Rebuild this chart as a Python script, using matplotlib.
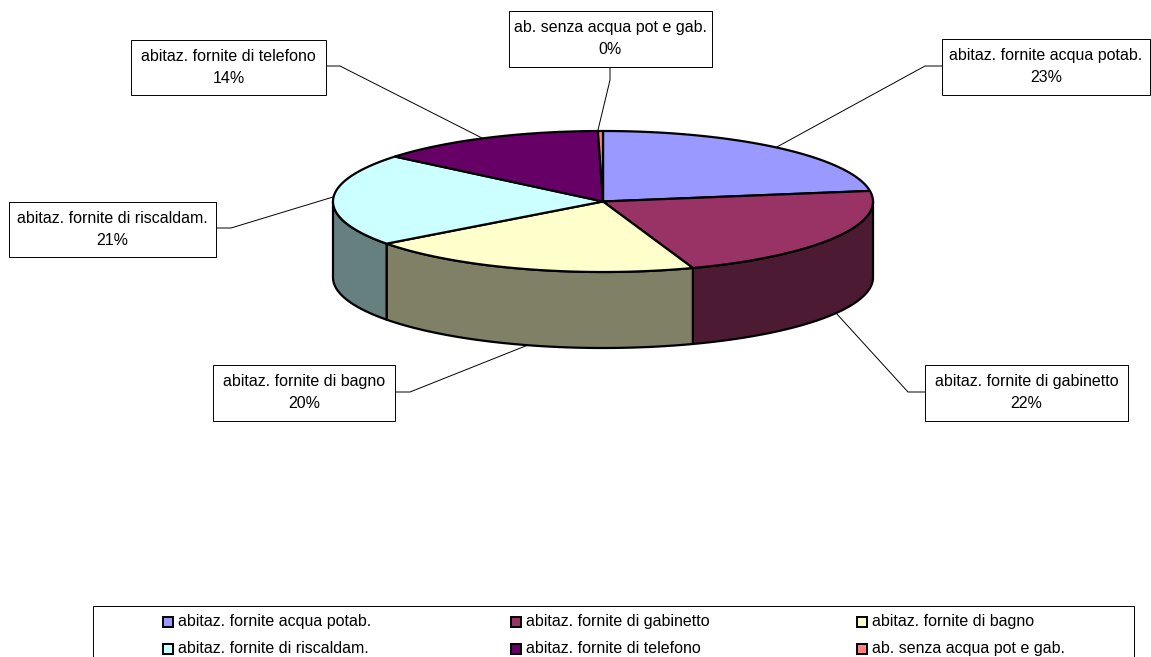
import matplotlib
matplotlib.use('Agg')
import matplotlib.pyplot as plt
from matplotlib.patches import Polygon, Rectangle
import numpy as np

plt.rcParams['font.family'] = ['Liberation Sans', 'DejaVu Sans']

# data
labels = ['abitaz. fornite acqua potab.', 'abitaz. fornite di gabinetto', 'abitaz. fornite di bagno',
          'abitaz. fornite di riscaldam.', 'abitaz. fornite di telefono', 'ab. senza acqua pot e gab.']
values = [22.6, 22.0, 20.2, 21.2, 13.7, 0.3]
colors = ['#9999FF', '#993366', '#FFFFCC', '#CCFFFF', '#660066', '#FF8080']
side_colors = ['#4D4D80', '#4D1A33', '#808066', '#668080', '#330033', '#804040']

# pie geometry in pixels
cx, cy = 603, 201.5
rx, ry = 270, 70.5
depth = 76

# callout boxes x0, y0, x1, y1 and leader lines
boxes = [(942, 39, 1150, 95), (925, 365, 1128, 421), (213, 365, 395, 421),
         (9, 202, 216, 257), (131, 40, 326, 95), (509, 11, 712, 67)]
leaders = [[(942, 66), (925, 66), (775, 148)],
           [(925, 392), (908, 392), (836, 313)],
           [(395, 392), (410, 392), (528, 345)],
           [(216, 228), (231, 228), (333, 197)],
           [(326, 66), (340, 66), (482, 138)],
           [(610, 67), (610, 80), (598, 130)]]

# legend
legend_box = (93, 606, 1134, 670)
legend_x = [163, 511, 857]
legend_y = [622, 649]


def rim(a, b, n=80):
    t = np.radians(np.linspace(a, b, n))
    return cx + rx * np.sin(t), cy - ry * np.cos(t)


fig = plt.figure(figsize=(11.51, 6.57), dpi=100)
ax = fig.add_axes([0, 0, 1, 1])
ax.set_xlim(0, 1151)
ax.set_ylim(657, 0)
ax.axis('off')

# leaders under the pie
for pts in leaders:
    ax.plot([p[0] for p in pts], [p[1] for p in pts], color='black', lw=0.7, zorder=1)

angles = np.concatenate([[0], np.cumsum(values)]) / sum(values) * 360

# front walls, only the part between 90 and 270 deg is visible
for i in range(len(values)):
    a = max(angles[i], 90)
    b = min(angles[i + 1], 270)
    if a < b:
        x, y = rim(a, b)
        pts = np.column_stack([np.r_[x, x[::-1]], np.r_[y, y[::-1] + depth]])
        ax.add_patch(Polygon(pts, closed=True, fc=side_colors[i], ec='black', lw=1.6, zorder=2, joinstyle='round'))

# top slices
for i in range(len(values)):
    x, y = rim(angles[i], angles[i + 1])
    pts = np.column_stack([np.r_[cx, x], np.r_[cy, y]])
    ax.add_patch(Polygon(pts, closed=True, fc=colors[i], ec='black', lw=1.6, zorder=3, joinstyle='round'))

# callouts
for i, (x0, y0, x1, y1) in enumerate(boxes):
    ax.add_patch(Rectangle((x0, y0), x1 - x0, y1 - y0, fc='white', ec='black', lw=0.7, zorder=4))
    mx = (x0 + x1) / 2
    ax.text(mx, y0 + 21, labels[i], ha='center', va='baseline', fontsize=11.5, zorder=5)
    ax.text(mx, y0 + 43, '%d%%' % round(values[i]), ha='center', va='baseline', fontsize=11.5, zorder=5)

# legend
ax.add_patch(Rectangle((legend_box[0], legend_box[1]), legend_box[2] - legend_box[0],
                       legend_box[3] - legend_box[1], fc='white', ec='black', lw=0.7, zorder=4))
for i in range(len(labels)):
    lx = legend_x[i % 3]
    ly = legend_y[i // 3]
    ax.add_patch(Rectangle((lx, ly - 5), 10, 10, fc=colors[i], ec='black', lw=1.4, zorder=5))
    ax.text(lx + 15, ly + 4, labels[i], ha='left', va='baseline', fontsize=11.5, zorder=5)

fig.savefig('out.png', dpi=100, facecolor='white')
